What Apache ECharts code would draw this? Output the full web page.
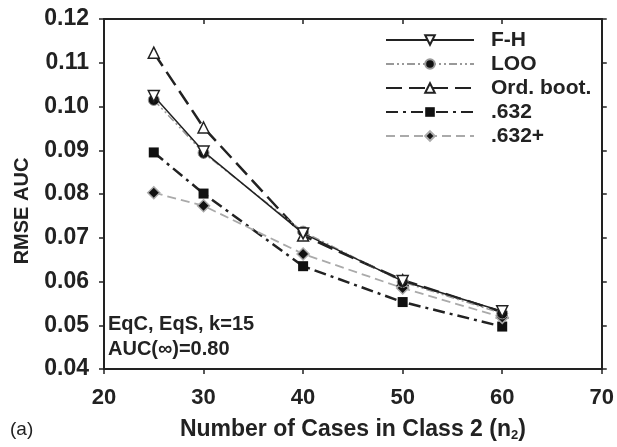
<!DOCTYPE html>
<html><head><meta charset="utf-8">
<script src="https://cdn.jsdelivr.net/npm/echarts@6/dist/echarts.min.js"></script>
<style>html,body{margin:0;padding:0;background:#fff}#c{width:617px;height:447px}</style>
</head><body><div id="c"></div>
<script>
var xValues = [25, 30, 40, 50, 60];
var fh      = [0.1024, 0.0897, 0.0710, 0.0601, 0.0532];
var loo     = [0.1015, 0.0894, 0.0714, 0.0599, 0.0527];
var ordBoot = [0.1123, 0.0952, 0.0705, 0.0603, 0.0530];
var p632    = [0.0895, 0.0801, 0.0635, 0.0553, 0.0497];
var p632p   = [0.0803, 0.0773, 0.0663, 0.0585, 0.0518];
var seriesNames = ['F-H', 'LOO', 'Ord. boot.', '.632', '.632+'];

function pairs(v){ return xValues.map(function(x,i){ return [x, v[i]]; }); }
var F = '"Liberation Sans", Arial, sans-serif';
var chart = echarts.init(document.getElementById('c'));
var axisLine = {show:true, lineStyle:{color:'#222', width:2}};
chart.setOption({
  animation:false,
  grid:{left:104, right:13, top:19, bottom:78},
  legend:{
    orient:'vertical', left:380, top:24, itemWidth:88, itemHeight:12, itemGap:2,
    textStyle:{fontFamily:F, fontWeight:'bold', fontSize:21, lineHeight:22, color:'#222', padding:[0,0,0,12]},
    data:seriesNames
  },
  xAxis:[{
    type:'value', min:20, max:70, interval:10, position:'bottom',
    axisLine:axisLine, axisTick:{show:true, length:5, lineStyle:{color:'#222', width:1.5}},
    splitLine:{show:false},
    axisLabel:{fontFamily:F, fontWeight:'bold', fontSize:22, color:'#222', margin:18},
    name:'{a|Number of Cases in Class 2 (n}{s|2}{a|)}', nameLocation:'middle', nameGap:49,
    nameTextStyle:{rich:{a:{fontFamily:F, fontWeight:'bold', fontSize:23, color:'#222'},
      s:{fontFamily:F, fontWeight:'bold', fontSize:13, color:'#222', verticalAlign:'bottom', padding:[11,0,0,0]}}}
  },{
    type:'value', min:20, max:70, interval:10, position:'top',
    axisLine:axisLine, axisTick:{show:true, inside:true, length:5, lineStyle:{color:'#222', width:1.5}},
    axisLabel:{show:false}, splitLine:{show:false}
  }],
  yAxis:[{
    type:'value', min:0.04, max:0.12, interval:0.01, position:'left',
    axisLine:axisLine, axisTick:{show:true, length:5, lineStyle:{color:'#222', width:1.5}},
    splitLine:{show:false},
    axisLabel:{fontFamily:F, fontWeight:'bold', fontSize:23, color:'#222', margin:15,
      formatter:function(v){return v.toFixed(2);}}
  },{
    type:'value', min:0.04, max:0.12, interval:0.01, position:'right',
    axisLine:axisLine, axisTick:{show:true, length:5, lineStyle:{color:'#222', width:1.5}},
    axisLabel:{show:false}, splitLine:{show:false}
  }],
  series:[
    {name:seriesNames[0], type:'line', data:pairs(fh), symbol:'triangle', symbolRotate:180, symbolSize:11,
      lineStyle:{color:'#222', width:1.5}, itemStyle:{color:'#fff', borderColor:'#222', borderWidth:1.5}, z:5},
    {name:seriesNames[1], type:'line', data:pairs(loo), symbol:'circle', symbolSize:11,
      lineStyle:{color:'#999', width:1.5, type:[8,3,2,3,2,3]}, itemStyle:{color:'#111', borderColor:'#999', borderWidth:1}, z:4},
    {name:seriesNames[2], type:'line', data:pairs(ordBoot), symbol:'triangle', symbolSize:11,
      lineStyle:{color:'#222', width:2.5, type:[16,7]}, itemStyle:{color:'#fff', borderColor:'#222', borderWidth:1.5}, z:3},
    {name:seriesNames[3], type:'line', data:pairs(p632), symbol:'rect', symbolSize:10,
      lineStyle:{color:'#222', width:2.5, type:[12,5,3,5]}, itemStyle:{color:'#111', borderColor:'#111', borderWidth:0}, z:3},
    {name:seriesNames[4], type:'line', data:pairs(p632p), symbol:'diamond', symbolSize:12,
      lineStyle:{color:'#aaa', width:1.8, type:[9,5]}, itemStyle:{color:'#111', borderColor:'#aaa', borderWidth:1.5}, z:3}
  ],
  graphic:[
    {type:'text', x:22, y:211, rotation:Math.PI/2, style:{text:'RMSE AUC', font:'bold 20px '+F, fill:'#222', align:'center', verticalAlign:'middle'}},
    {type:'text', left:108, top:314, style:{text:'EqC, EqS, k=15', font:'bold 20px '+F, fill:'#222'}},
    {type:'text', left:108, top:339, style:{text:'AUC(\u221E)=0.80', font:'bold 20px '+F, fill:'#222'}},
    {type:'text', left:10, top:420, style:{text:'(a)', font:'19px '+F, fill:'#222'}}
  ]
});
</script></body></html>
